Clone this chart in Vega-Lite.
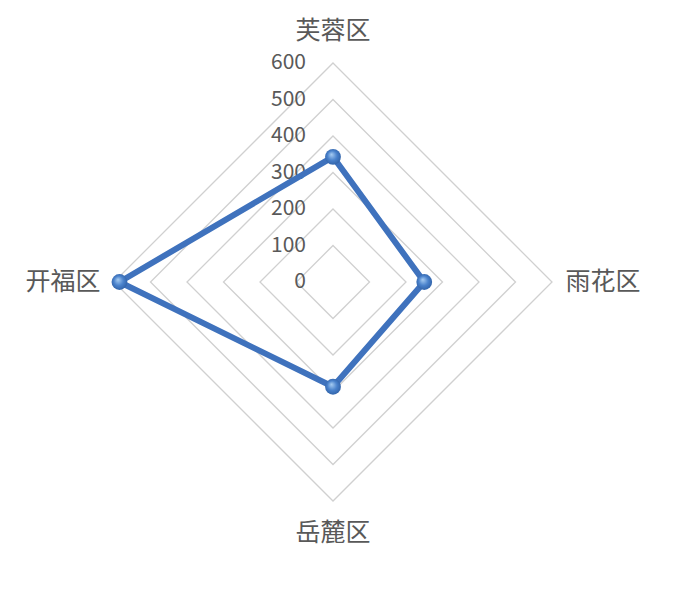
{
  "$schema": "https://vega.github.io/schema/vega-lite/v6.json",
  "width": 438,
  "height": 438,
  "autosize": {"type": "none"},
  "padding": {"left": 114, "top": 63, "right": 148, "bottom": 90},
  "background": "white",
  "config": {"view": {"stroke": null}, "font": "Noto Sans CJK SC"},
  "datasets": {
    "districts": [
      {"district": "芙蓉区", "value": 343, "order": 0},
      {"district": "雨花区", "value": 250, "order": 1},
      {"district": "岳麓区", "value": 287, "order": 2},
      {"district": "开福区", "value": 585, "order": 3}
    ],
    "grid": [
      {"level": 100, "corners": [0, 1, 2, 3]},
      {"level": 200, "corners": [0, 1, 2, 3]},
      {"level": 300, "corners": [0, 1, 2, 3]},
      {"level": 400, "corners": [0, 1, 2, 3]},
      {"level": 500, "corners": [0, 1, 2, 3]},
      {"level": 600, "corners": [0, 1, 2, 3]}
    ],
    "ticks": [
      {"level": 0}, {"level": 100}, {"level": 200}, {"level": 300},
      {"level": 400}, {"level": 500}, {"level": 600}
    ]
  },
  "layer": [
    {
      "data": {"name": "grid"},
      "transform": [
        {"flatten": ["corners"], "as": ["corner"]},
        {"calculate": "datum.level * sin(datum.corner * PI / 2)", "as": "gx"},
        {"calculate": "datum.level * cos(datum.corner * PI / 2)", "as": "gy"}
      ],
      "mark": {"type": "line", "interpolate": "linear-closed", "stroke": "#d0d0d0", "strokeWidth": 1.3},
      "encoding": {
        "x": {"field": "gx", "type": "quantitative", "scale": {"domain": [-600, 600], "nice": false}, "axis": null},
        "y": {"field": "gy", "type": "quantitative", "scale": {"domain": [-600, 600], "nice": false}, "axis": null},
        "detail": {"field": "level", "type": "nominal"},
        "order": {"field": "corner", "type": "quantitative"}
      }
    },
    {
      "data": {"name": "ticks"},
      "mark": {"type": "text", "align": "right", "baseline": "middle", "dx": -27, "fontSize": 21, "color": "#595959"},
      "encoding": {
        "x": {"datum": 0, "type": "quantitative", "scale": {"domain": [-600, 600], "nice": false}, "axis": null},
        "y": {"field": "level", "type": "quantitative", "scale": {"domain": [-600, 600], "nice": false}, "axis": null},
        "text": {"field": "level", "type": "quantitative"}
      }
    },
    {
      "data": {"name": "districts"},
      "transform": [
        {"calculate": "datum.value * sin(datum.order * PI / 2)", "as": "px"},
        {"calculate": "datum.value * cos(datum.order * PI / 2)", "as": "py"}
      ],
      "mark": {"type": "line", "interpolate": "linear-closed", "stroke": "#3f72bd", "strokeWidth": 6, "strokeJoin": "round"},
      "encoding": {
        "x": {"field": "px", "type": "quantitative", "scale": {"domain": [-600, 600], "nice": false}, "axis": null},
        "y": {"field": "py", "type": "quantitative", "scale": {"domain": [-600, 600], "nice": false}, "axis": null},
        "order": {"field": "order", "type": "quantitative"}
      }
    },
    {
      "data": {"name": "districts"},
      "transform": [
        {"calculate": "datum.value * sin(datum.order * PI / 2)", "as": "px"},
        {"calculate": "datum.value * cos(datum.order * PI / 2)", "as": "py"}
      ],
      "mark": {
        "type": "point",
        "shape": "circle",
        "filled": true,
        "size": 250,
        "opacity": 1,
        "fill": {
          "gradient": "radial",
          "x1": 0.4, "y1": 0.35, "r1": 0,
          "x2": 0.5, "y2": 0.5, "r2": 0.6,
          "stops": [
            {"offset": 0, "color": "#a8cdf2"},
            {"offset": 0.5, "color": "#4a82cc"},
            {"offset": 1, "color": "#2a5a9e"}
          ]
        }
      },
      "encoding": {
        "x": {"field": "px", "type": "quantitative", "scale": {"domain": [-600, 600], "nice": false}, "axis": null},
        "y": {"field": "py", "type": "quantitative", "scale": {"domain": [-600, 600], "nice": false}, "axis": null}
      }
    },
    {
      "data": {"name": "districts"},
      "transform": [
        {"calculate": "datum.order % 2 == 0 ? 688 : 740", "as": "lr"},
        {"calculate": "datum.lr * sin(datum.order * PI / 2)", "as": "lx"},
        {"calculate": "datum.lr * cos(datum.order * PI / 2)", "as": "ly"}
      ],
      "mark": {"type": "text", "align": "center", "baseline": "middle", "fontSize": 25, "color": "#595959"},
      "encoding": {
        "x": {"field": "lx", "type": "quantitative", "scale": {"domain": [-600, 600], "nice": false}, "axis": null},
        "y": {"field": "ly", "type": "quantitative", "scale": {"domain": [-600, 600], "nice": false}, "axis": null},
        "text": {"field": "district", "type": "nominal"}
      }
    }
  ]
}
